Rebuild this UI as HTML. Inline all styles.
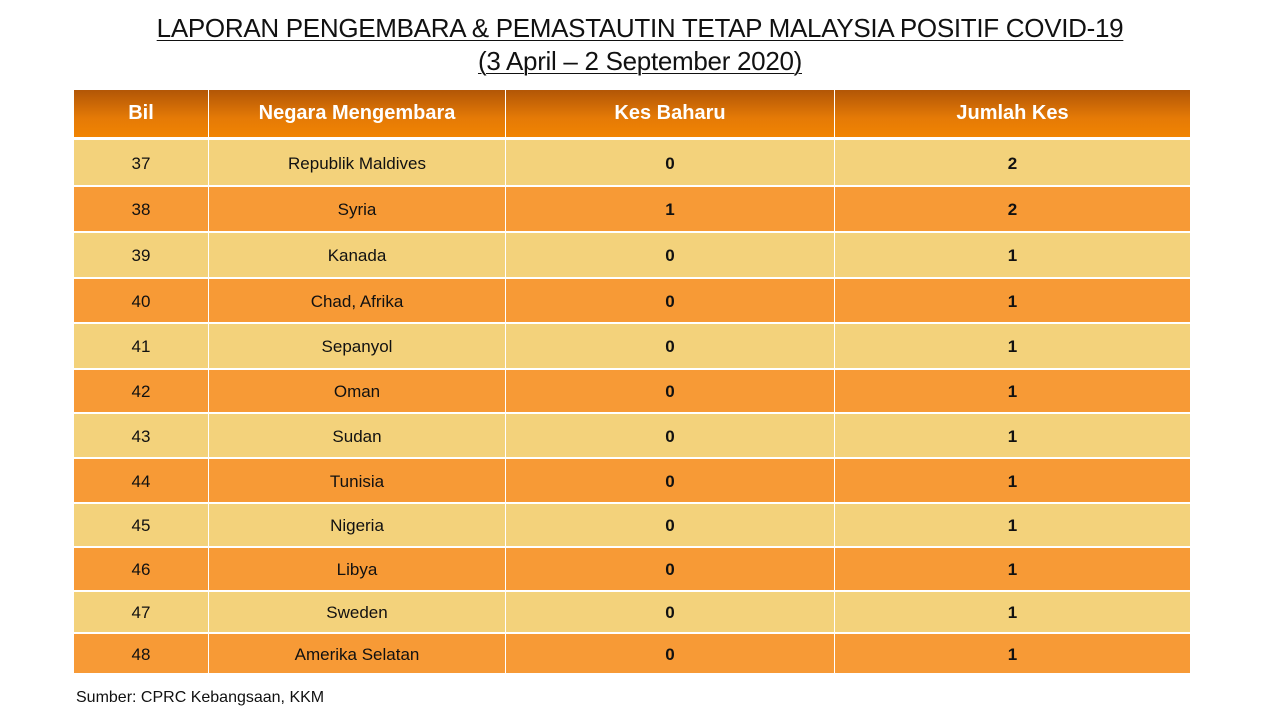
<!DOCTYPE html>
<html><head><meta charset="utf-8"><style>
body{margin:0;width:1280px;height:720px;background:#fff;position:relative;overflow:hidden;font-family:"Liberation Sans",sans-serif;}
.t{position:absolute;left:0;width:1280px;text-align:center;font-size:26px;color:#111;text-decoration:underline;text-decoration-thickness:1px;text-underline-offset:3px;letter-spacing:-0.3px}
.c{position:absolute;display:flex;align-items:center;justify-content:center;font-size:17px;color:#111;box-sizing:border-box;padding-top:2px}
.h{color:#fff;font-weight:bold;font-size:20px;background:linear-gradient(#b25606,#e57a06 60%,#f18402);padding-top:0}
.l{background:#f3d27b}.d{background:#f79a36}
.b{font-weight:bold}
</style></head><body>
<div class="t" style="top:13px">LAPORAN PENGEMBARA &amp; PEMASTAUTIN TETAP MALAYSIA POSITIF COVID-19</div>
<div class="t" style="top:46px">(3 April – 2 September 2020)</div>
<div id="tb"></div>
<div style="position:absolute;left:76px;top:689px;font-size:16px;color:#111">Sumber: CPRC Kebangsaan, KKM</div>
<script>
var cols=[[74,208],[209,505],[506,834],[835,1190]];
var rows=[[90,137],[140,185],[187,231],[233,277],[279,322],[324,368],[370,412],[414,457],[459,502],[504,546],[548,590],[592,632],[634,673]];
var data=[["Bil","Negara Mengembara","Kes Baharu","Jumlah Kes"],
["37","Republik Maldives","0","2"],["38","Syria","1","2"],["39","Kanada","0","1"],["40","Chad, Afrika","0","1"],["41","Sepanyol","0","1"],["42","Oman","0","1"],["43","Sudan","0","1"],["44","Tunisia","0","1"],["45","Nigeria","0","1"],["46","Libya","0","1"],["47","Sweden","0","1"],["48","Amerika Selatan","0","1"]];
var h="";
rows.forEach(function(r,i){cols.forEach(function(c,j){
var cls=i==0?"h":(i%2?"l":"d");if(i>0&&j>=2)cls+=" b";
h+='<div class="c '+cls+'" style="left:'+c[0]+'px;top:'+r[0]+'px;width:'+(c[1]-c[0])+'px;height:'+(r[1]-r[0])+'px">'+data[i][j]+'</div>';});});
document.getElementById("tb").innerHTML=h;
</script>
</body></html>
